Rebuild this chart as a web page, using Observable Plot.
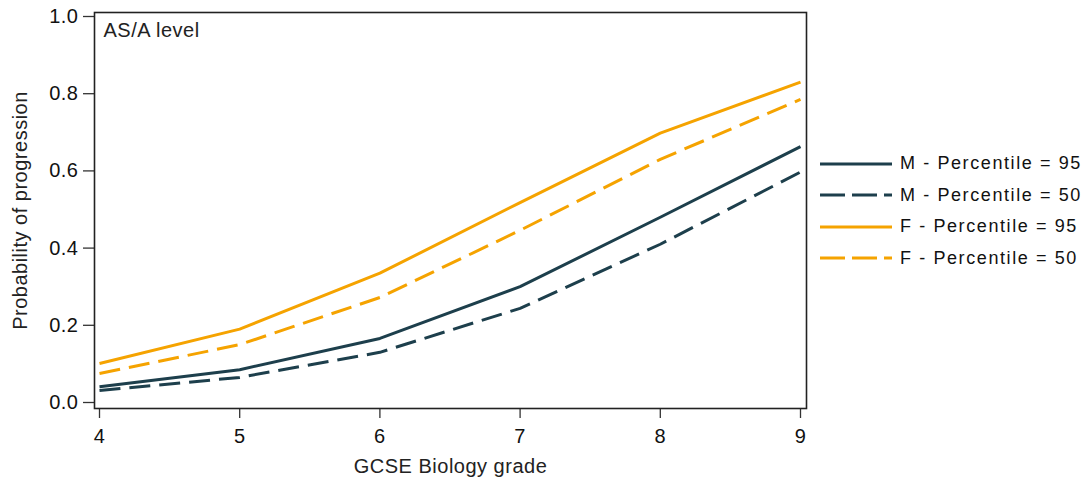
<!DOCTYPE html>
<html>
<head>
<meta charset="utf-8">
<script src="https://cdn.jsdelivr.net/npm/d3@7"></script>
<script src="https://cdn.jsdelivr.net/npm/@observablehq/plot@0.6"></script>
<style>
  html, body { margin: 0; padding: 0; background: #fff; }
  #wrap { position: relative; width: 1085px; height: 484px; font-family: "Liberation Sans", Arial, sans-serif; }
  #legend { position: absolute; left: 820px; top: 148px; }
  .row { display: flex; align-items: center; height: 31.5px; }
  .row span { margin-left: 8px; font-size: 18px; letter-spacing: 1.6px; color: #111; white-space: nowrap; }
</style>
</head>
<body>
<div id="wrap"></div>
<script>
const grades = [4, 5, 6, 7, 8, 9];
const m95 = [0.041, 0.085, 0.166, 0.300, 0.480, 0.663];
const m50 = [0.031, 0.065, 0.130, 0.244, 0.410, 0.597];
const f95 = [0.101, 0.190, 0.335, 0.518, 0.698, 0.830];
const f50 = [0.075, 0.150, 0.272, 0.446, 0.630, 0.785];
const seriesNames = ["M - Percentile = 95", "M - Percentile = 50", "F - Percentile = 95", "F - Percentile = 50"];
const yTicks = [0, 0.2, 0.4, 0.6, 0.8, 1.0];
const xTitle = "GCSE Biology grade";
const yTitle = "Probability of progression";
const panelLabel = "AS/A level";

const teal = "#1d3f4c", orange = "#f5a300";
const styles = [
  {stroke: teal, dash: null},
  {stroke: teal, dash: "21,9"},
  {stroke: orange, dash: null},
  {stroke: orange, dash: "21,9"}
];
const values = [m95, m50, f95, f50];
const rows = values.map((v, i) => grades.map((g, j) => ({grade: g, p: v[j], series: seriesNames[i]})));

const plot = Plot.plot({
  width: 1085,
  height: 484,
  marginLeft: 94,
  marginRight: 279,
  marginTop: 12,
  marginBottom: 76,
  insetLeft: 5,
  insetRight: 6,
  insetTop: 4,
  insetBottom: 6,
  style: {fontFamily: "Liberation Sans, Arial, sans-serif", background: "white", color: "#111", letterSpacing: "0.5px"},
  x: {domain: [4, 9]},
  y: {domain: [0, 1]},
  marks: [
    Plot.axisY({ticks: yTicks, tickFormat: d3.format(".1f"), tickSize: 11, tickPadding: 5, fontSize: 20, label: null, stroke: "#333", strokeWidth: 1.3}),
    Plot.axisX({ticks: grades, tickFormat: d3.format("d"), tickSize: 10, tickPadding: 10, fontSize: 20, label: null, stroke: "#333", strokeWidth: 1.3}),
    ...rows.map((r, i) => Plot.line(r, {x: "grade", y: "p", stroke: styles[i].stroke, strokeWidth: 3, strokeDasharray: styles[i].dash, strokeLinecap: "butt", strokeLinejoin: "round"})),
    Plot.frame({stroke: "#222", strokeWidth: 1.6}),
    Plot.text([panelLabel], {frameAnchor: "top-left", dx: 9, dy: 10, textAnchor: "start", lineAnchor: "top", fontSize: 20, fill: "#222"}),
    Plot.text([xTitle], {frameAnchor: "bottom", dy: 64, textAnchor: "middle", fontSize: 20, fill: "#222"}),
    Plot.text([yTitle], {frameAnchor: "left", dx: -74, rotate: -90, textAnchor: "middle", fontSize: 20, fill: "#222"})
  ]
});
const wrap = document.getElementById("wrap");
wrap.appendChild(plot);
plot.style.position = "absolute";
plot.style.left = "0";
plot.style.top = "0";

const legend = document.createElement("div");
legend.id = "legend";
seriesNames.forEach((name, i) => {
  const row = document.createElement("div");
  row.className = "row";
  const s = d3.create("svg").attr("width", 72).attr("height", 10);
  s.append("line").attr("x1", 0).attr("x2", 72).attr("y1", 5).attr("y2", 5)
    .attr("stroke", styles[i].stroke).attr("stroke-width", 3)
    .attr("stroke-dasharray", styles[i].dash ? "25,7" : null);
  row.appendChild(s.node());
  const t = document.createElement("span");
  t.textContent = name;
  row.appendChild(t);
  legend.appendChild(row);
});
wrap.appendChild(legend);
</script>
</body>
</html>
